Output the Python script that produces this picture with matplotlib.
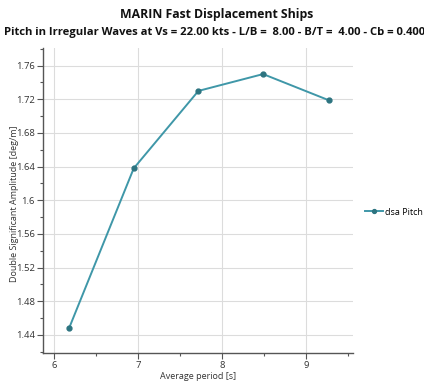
import matplotlib
matplotlib.use("Agg")
import matplotlib.pyplot as plt
from matplotlib.ticker import MultipleLocator, FuncFormatter

periods = [6.18, 6.95, 7.72, 8.49, 9.27]
dsa_pitch = [1.448, 1.638, 1.730, 1.750, 1.719]
series_name = "dsa Pitch"
title = "MARIN Fast Displacement Ships"
subtitle = "Pitch in Irregular Waves at Vs = 22.00 kts - L/B =  8.00 - B/T =  4.00 - Cb = 0.400"
xlabel = "Average period [s]"
ylabel = "Double Significant Amplitude [deg/m]"

plt.rcParams['font.family'] = ['Open Sans', 'DejaVu Sans']

fig = plt.figure(figsize=(4.24, 3.83), dpi=100)
ax = fig.add_axes([0.1014, 0.0783, 0.7311, 0.7964])

line_color = "#3f97a8"
marker_color = "#2d7480"
ax.plot(periods, dsa_pitch, color=line_color, lw=1.4, marker='o', ms=3.5,
        mfc=marker_color, mec=marker_color, label=series_name, zorder=3)

ax.set_xlim(5.87, 9.56)
ax.set_ylim(1.4186, 1.781)
ax.xaxis.set_major_locator(MultipleLocator(1))
ax.xaxis.set_minor_locator(MultipleLocator(0.5))
ax.yaxis.set_major_locator(MultipleLocator(0.04))
ax.yaxis.set_minor_locator(MultipleLocator(0.02))

def yfmt(v, pos):
    s = f"{v:.2f}"
    if s.endswith("0"):
        s = s[:-1]
    return s
ax.yaxis.set_major_formatter(FuncFormatter(yfmt))

ax.grid(True, which='major', color='#dcdcdc', lw=0.8)
ax.set_axisbelow(True)
for s in ['top', 'right']:
    ax.spines[s].set_visible(False)
for s in ['left', 'bottom']:
    ax.spines[s].set_color('#555555')
    ax.spines[s].set_linewidth(1.0)
ax.tick_params(which='major', length=4, width=0.8, color='#555555', labelsize=6.8, labelcolor='#333333', pad=2)
ax.tick_params(which='minor', length=2, width=0.8, color='#555555')

ax.set_xlabel(xlabel, fontsize=6.5, color='#333333', labelpad=1)
ax.set_ylabel(ylabel, fontsize=6.5, color='#333333')
ax.yaxis.set_label_coords(-0.077, 0.49)

fig.text(0.511, 0.961, title, ha='center', va='center', fontsize=8.8, fontweight='bold', color='#111111')
fig.text(0.505, 0.914, subtitle, ha='center', va='center', fontsize=8.1, fontweight='bold', color='#111111')

ax.legend(loc='center left', bbox_to_anchor=(1.04, 0.462), frameon=False, fontsize=6.5,
          borderpad=0, borderaxespad=0, handlelength=1.9, handletextpad=0.25, markerscale=0.8)

fig.savefig("out.png", dpi=100)
